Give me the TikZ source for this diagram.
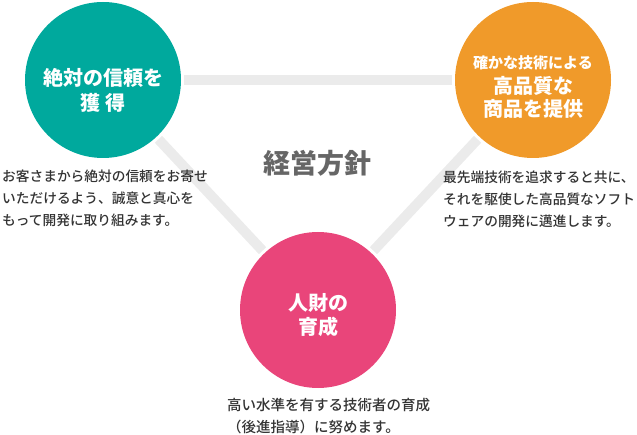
\documentclass[tikz,border=0pt]{standalone}
\usepackage{fontspec}
\setmainfont{Noto Sans CJK JP}
\IfFontExistsTF{Noto Sans CJK JP Medium}
  {\newfontfamily\notefont{Noto Sans CJK JP Medium}}
  {\newfontfamily\notefont{Noto Sans CJK JP}}
\usepackage{xcolor}
\usetikzlibrary{positioning}
\definecolor{trustcol}{HTML}{00A99D}
\definecolor{qualitycol}{HTML}{F09A2A}
\definecolor{peoplecol}{HTML}{E9457A}
\definecolor{barcol}{HTML}{EBEBEB}
\definecolor{titlecol}{HTML}{666666}
\definecolor{paracol}{HTML}{333333}

\begin{document}
\begin{tikzpicture}[x=1pt,y=-1pt,
  goal/.style={circle,fill=#1,minimum size=156pt,inner sep=0pt},
  goaltext/.style={text=white,align=center,inner sep=0pt,font=\bfseries\fontsize{20}{24}\selectfont},
  bar/.style={draw=barcol,line width=10pt,shorten <=3pt,shorten >=3pt},
  para/.style={anchor=base west,align=left,inner sep=0pt,text=paracol,font=\notefont\fontsize{13.7}{22}\selectfont}]
\useasboundingbox (0,0) rectangle (637,435);
% the three aims
\node[goal=trustcol] (trust) at (103,80) {};
\node[goal=qualitycol] (quality) at (533,80) {};
\node[goal=peoplecol] (people) at (318,310) {};
\draw[bar] (trust) -- (quality);
\draw[bar] (trust) -- (people);
\draw[bar] (quality) -- (people);
\node[goaltext] (trustlbl) at (103,90.5) {絶対の信頼を\\[1pt]獲 得};
\node[goaltext] (qualitylbl) at (533,87) {{\fontsize{15}{18}\selectfont 確かな技術による}\\[1pt]高品質な\\[-1pt]商品を提供};
\node[goaltext] (peoplelbl) at (318,315) {人財の\\育成};
\node[text=titlecol,font=\bfseries\fontsize{27}{30}\selectfont] (head) at (317,163) {経営方針};
% notes (base = last line)
\node[para] (trustnote) at (2,226) {お客さまから絶対の信頼をお寄せ\\いただけるよう、誠意と真心を\\もって開発に取り組みます。};
\node[para] (qualitynote) at (443,227) {最先端技術を追求すると共に、\\それを駆使した高品質なソフト\\ウェアの開発に邁進します。};
\node[para,font=\notefont\fontsize{14.5}{22}\selectfont] (peoplenote) at (227,432) {高い水準を有する技術者の育成\\（後進指導）に努めます。};
\end{tikzpicture}
\end{document}
